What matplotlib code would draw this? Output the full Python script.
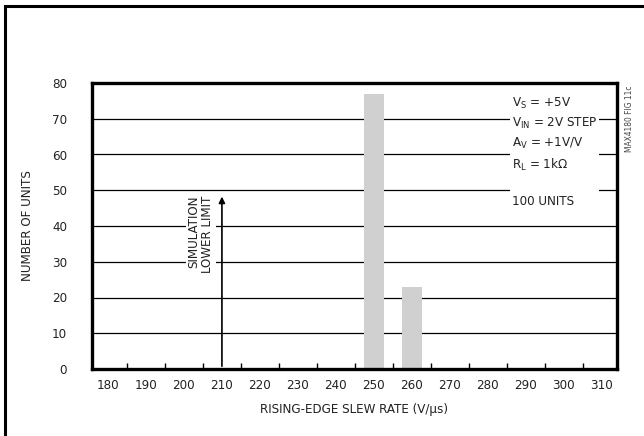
import matplotlib
matplotlib.use("Agg")
import matplotlib.pyplot as plt
from matplotlib.patches import Rectangle
from matplotlib import font_manager

# narrow helvetica look: try condensed DejaVu
cond = [f for f in font_manager.fontManager.ttflist
        if f.name == 'DejaVu Sans' and f.stretch == 'condensed' and f.weight == 400 and f.style == 'normal']
if cond:
    fam = 'DejaVu Sans'
    plt.rcParams['font.stretch'] = 'condensed'
else:
    fam = 'Liberation Sans'
plt.rcParams['font.family'] = [fam, 'DejaVu Sans']
plt.rcParams['mathtext.fontset'] = 'custom'
plt.rcParams['mathtext.rm'] = fam
plt.rcParams['mathtext.it'] = fam
plt.rcParams['mathtext.default'] = 'rm'

# histogram data
bin_centers = [250, 260]
counts = [77, 23]
x_ticklabels = [180, 190, 200, 210, 220, 230, 240, 250, 260, 270, 280, 290, 300, 310]
y_ticklabels = [0, 10, 20, 30, 40, 50, 60, 70, 80]
sim_limit = 210
sim_arrow_top = 49
notes = [r'V$_\mathregular{S}$ = +5V', r'V$_\mathregular{IN}$ = 2V STEP',
         r'A$_\mathregular{V}$ = +1V/V', r'R$_\mathregular{L}$ = 1k$\Omega$', '', '100 UNITS']

tc = '#222222'
fs = 9.5
fig = plt.figure(figsize=(6.44, 4.36), dpi=100)
ax = fig.add_axes([92/644, 67/436, 525/644, 286/436])

# outer frame (only left/top visible)
fig.add_artist(Rectangle((5/644, -0.1), 1.2, 1.1 - 6/436, transform=fig.transFigure,
                         fill=False, lw=2.2, ec='black'))

for y in y_ticklabels[1:-1]:
    ax.axhline(y, color='black', lw=0.9, zorder=1)

ax.bar(bin_centers, counts, width=5.3, color='#d0d0d0', zorder=2)

ax.set_xlim(175.8, 314)
ax.set_ylim(0, 80)
ax.set_xticks(x_ticklabels)
ax.set_xticklabels([str(v) for v in x_ticklabels], color=tc, fontsize=fs)
ax.set_xticks([v + 5 for v in x_ticklabels[:-1]], minor=True)
ax.tick_params(axis='x', which='major', length=0, pad=7)
ax.tick_params(axis='x', which='minor', length=4, width=1, direction='in')
ax.set_yticks(y_ticklabels)
ax.set_yticklabels([str(v) for v in y_ticklabels], color=tc, fontsize=fs)
ax.tick_params(axis='y', length=0, pad=18)
for s in ax.spines.values():
    s.set_linewidth(2.4)

ax.set_xlabel('RISING-EDGE SLEW RATE (V/\u03bcs)', color=tc, fontsize=fs, labelpad=8)
ax.set_ylabel('NUMBER OF UNITS', color=tc, fontsize=fs, labelpad=13)

# simulation lower limit arrow
ax.annotate('', xy=(sim_limit, sim_arrow_top), xytext=(sim_limit, 0),
            arrowprops=dict(arrowstyle='-|>', color='black', lw=1.2, mutation_scale=9),
            zorder=4)
ax.text(sim_limit - 2.0, 48.5, 'SIMULATION\nLOWER LIMIT', rotation=90, ha='right', va='top',
        fontsize=fs, color=tc, linespacing=1.1,
        bbox=dict(fc='white', ec='none', pad=1), zorder=3)

# conditions block
ax.add_patch(Rectangle((0.797, 0.56), 0.168, 0.41, transform=ax.transAxes,
                       fc='white', ec='none', zorder=3))
ax.text(0.80, 0.955, '\n'.join(notes), transform=ax.transAxes, ha='left', va='top',
        fontsize=fs, color=tc, linespacing=1.45, zorder=4)

fig.text(629/644, 1 - 86/436, 'MAX4180 FIG 11c', rotation=90, ha='center', va='top',
         fontsize=6, color='#444444')

fig.savefig('out.png', dpi=100)
